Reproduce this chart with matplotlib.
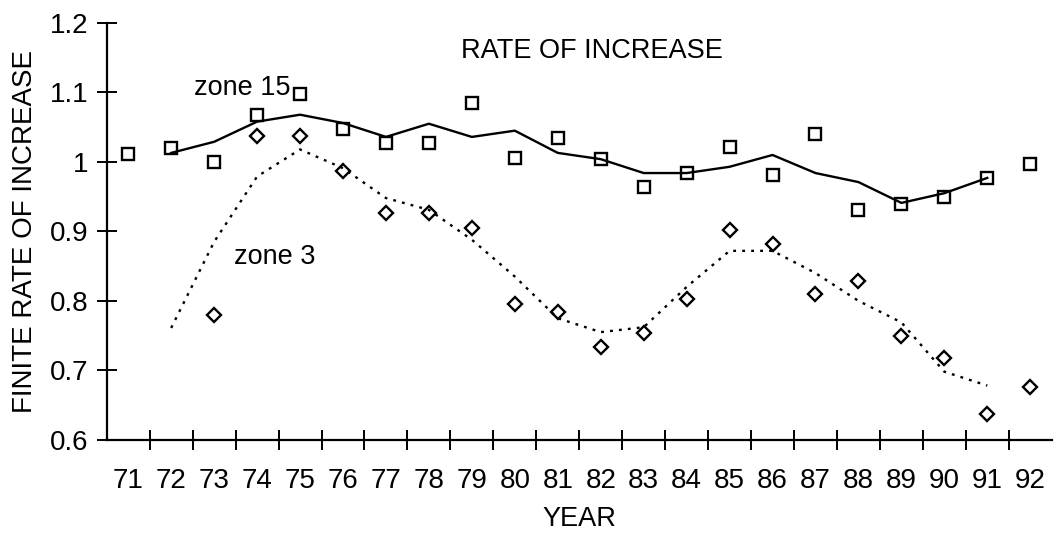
import numpy as np
import matplotlib
matplotlib.use('Agg')
import matplotlib.pyplot as plt

plt.rcParams['font.family'] = ['Liberation Sans', 'DejaVu Sans']

# data
years = ['71', '72', '73', '74', '75', '76', '77', '78', '79', '80', '81',
         '82', '83', '84', '85', '86', '87', '88', '89', '90', '91', '92']

zone15 = [1.011, 1.020, 1.000, 1.068, 1.098, 1.047, 1.027, 1.027, 1.085, 1.006, 1.035,
          1.004, 0.964, 0.984, 1.022, 0.981, 1.040, 0.931, 0.940, 0.950, 0.977, 0.997]
# smoothed line, 72..91
zone15_smooth = [1.013, 1.029, 1.058, 1.068, 1.056, 1.036, 1.055, 1.036, 1.045, 1.013,
                 1.004, 0.984, 0.984, 0.993, 1.010, 0.984, 0.971, 0.941, 0.955, 0.977]

zone3 = [None, None, 0.780, 1.037, 1.037, 0.987, 0.927, 0.926, 0.905, 0.796, 0.784,
         0.734, 0.754, 0.803, 0.902, 0.882, 0.810, 0.829, 0.750, 0.718, 0.637, 0.676]
zone3_smooth = [0.761, 0.885, 0.979, 1.018, 0.991, 0.948, 0.931, 0.888, 0.835, 0.775,
                0.755, 0.762, 0.820, 0.872, 0.872, 0.840, 0.800, 0.769, 0.698, 0.678]

x = np.arange(len(years))
x_smooth = x[1:21]

fig = plt.figure(figsize=(10.57, 5.35), dpi=100)
ax = fig.add_axes([0.101, 0.178, 0.894, 0.779])

ax.plot(x, zone15, linestyle='none', marker='s', markersize=8.5, markerfacecolor='white',
        markeredgecolor='black', markeredgewidth=1.7)
ax.plot(x_smooth, zone15_smooth, color='black', linewidth=1.7)

z3x = [i for i, v in zip(x, zone3) if v is not None]
z3y = [v for v in zone3 if v is not None]
ax.plot(z3x, z3y, linestyle='none', marker='D', markersize=7, markerfacecolor='white',
        markeredgecolor='black', markeredgewidth=1.7)
ax.plot(x_smooth, zone3_smooth, color='black', linewidth=1.7, linestyle=(0, (1.2, 2.6)))

ax.set_xlim(-0.5, 21.5)
ax.set_ylim(0.6, 1.2)
ax.set_yticks([0.6, 0.7, 0.8, 0.9, 1.0, 1.1, 1.2])
ax.set_yticklabels(['0.6', '0.7', '0.8', '0.9', '1', '1.1', '1.2'])
ax.set_xticks(x)
ax.set_xticklabels(years)
ax.set_xticks(np.arange(0.5, 21, 1), minor=True)

ax.tick_params(axis='x', which='major', length=0, pad=20, labelsize=20)
ax.tick_params(axis='x', which='minor', direction='inout', length=14, width=1.4)
ax.tick_params(axis='y', direction='inout', length=14, width=1.4, labelsize=20, pad=6)

for s in ['top', 'right']:
    ax.spines[s].set_visible(False)
for s in ['left', 'bottom']:
    ax.spines[s].set_linewidth(1.6)

ax.set_xlabel('YEAR', fontsize=19.5, labelpad=9)
ax.set_ylabel('FINITE RATE OF INCREASE', fontsize=20, labelpad=9)

ax.text(10.8, 1.16, 'RATE OF INCREASE', fontsize=19.5, ha='center', va='center')
ax.text(2.65, 1.106, 'zone 15', fontsize=19.5, ha='center', va='center')
ax.text(3.4, 0.863, 'zone 3', fontsize=19.5, ha='center', va='center')

fig.savefig('out.png', dpi=100)
